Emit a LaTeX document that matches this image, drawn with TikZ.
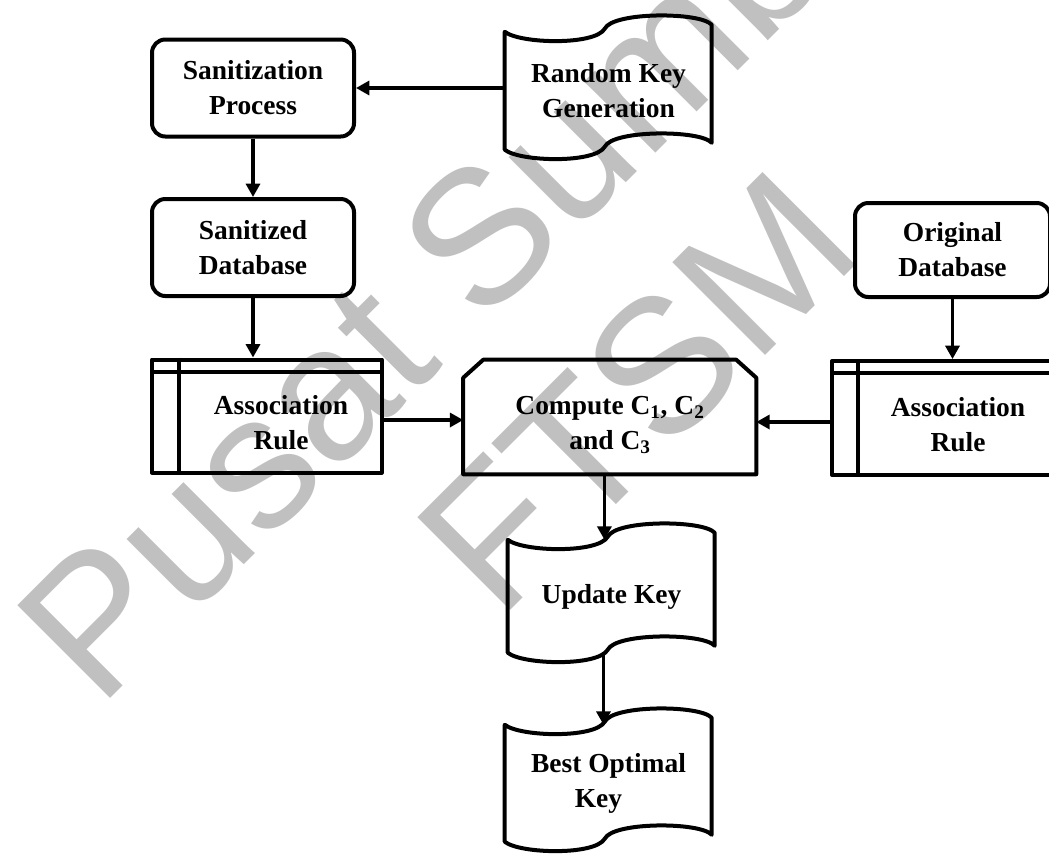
\documentclass[tikz,border=0pt]{standalone}
\usepackage{fontspec}
\setmainfont{Liberation Serif}
\newfontfamily\wmfont{Liberation Sans}
\usetikzlibrary{arrows.meta,calc}

\definecolor{wmgray}{RGB}{192,192,192}

\tikzset{
  lbl/.style={font=\bfseries\fontsize{20.6pt}{26.25pt}\selectfont, align=center, inner sep=0pt},
  outline/.style={line width=3pt, line join=round},
  roundbox/.style={lbl, draw, outline, rounded corners=10pt,
    minimum width=#1*0.75pt, minimum height=97*0.75pt},
  plainbox/.style={lbl, minimum width=#1*0.75pt},
  arr/.style={line width=2.4pt, -{Triangle[length=10pt,width=10.5pt]}},
  wm/.style={rotate=45, text=wmgray, inner sep=0pt, anchor=base,
    font=\wmfont\fontsize{143pt}{165pt}\selectfont},
}

% punched-tape outline, drawn from the node's top-left corner
\newcommand\tapeoutline[2]{%
  \begin{scope}[shift={(#1.north west)}]
    \draw[outline] (0,0)
      .. controls (15,12) and (90,14) .. (100,-3)
      .. controls (108,-20) and (195,-20) .. (207,-7)
      -- (207,#2-7)
      .. controls (195,#2-20) and (108,#2-20) .. (100,#2-3)
      .. controls (90,#2+14) and (15,#2+12) .. (0,#2)
      -- cycle;
  \end{scope}}

\begin{document}
\begin{tikzpicture}[x=0.75pt,y=-0.75pt]
  \useasboundingbox (0,0) rectangle (1049,861);
  \clip (0,0) rectangle (1049,861);

  % background mark
  \node[wm] (wm1) at (527,282) {Pusat Sumber};
  \node[wm] (wm2) at (683,438) {FTSM};

  % rounded process boxes
  \node[roundbox=202] (sp) at (253,88) {Sanitization\\Process};
  \node[roundbox=202] (sd) at (253,247.5) {Sanitized\\Database};
  \node[roundbox=195, minimum height=94*0.75pt] (od) at (952.5,250) {Original\\Database};

  % punched-tape boxes
  \node[plainbox=207, minimum height=118*0.75pt] (rk) at (608.5,91) {Random Key\\Generation};
  \tapeoutline{rk}{118}
  \node[plainbox=207, minimum height=113*0.75pt] (uk) at (611.5,596.5) {Update Key};
  \tapeoutline{uk}{113}
  \node[plainbox=207, minimum height=117*0.75pt] (bk) at (608.5,783.5) {Best Optimal\\Key\hspace*{15pt}};
  \tapeoutline{bk}{117}

  % association rule boxes (internal storage)
  \node[draw, outline, minimum width=229.5*0.75pt, minimum height=113*0.75pt] (arL) at (266.75,416) {};
  \draw[outline] ($(arL.north west)+(29,0)$) -- ($(arL.south west)+(29,0)$);
  \draw[outline] ($(arL.north west)+(0,14)$) -- ($(arL.north east)+(0,14)$);
  \node[lbl] (arLt) at (281,423) {Association\\Rule};

  \node[draw, outline, minimum width=228*0.75pt, minimum height=114*0.75pt] (arR) at (946,418) {};
  \draw[outline] ($(arR.north west)+(28,0)$) -- ($(arR.south west)+(28,0)$);
  \draw[outline] ($(arR.north west)+(0,14)$) -- ($(arR.north east)+(0,14)$);
  \node[lbl] (arRt) at (958,425) {Association\\Rule};

  % compute box with cut top corners
  \node[minimum width=292.5*0.75pt, minimum height=114*0.75pt, inner sep=0pt] (cmp) at (609.75,417) {};
  \draw[outline] (cmp.south west) -- ($(cmp.north west)+(0,18)$) -- ($(cmp.north west)+(20,0)$)
    -- ($(cmp.north east)+(-20,0)$) -- ($(cmp.north east)+(0,18)$) -- (cmp.south east) -- cycle;
  \node[lbl] (cmpt) at (610,425) {Compute C\textsubscript{1}, C\textsubscript{2}\\and C\textsubscript{3}};

  % connectors
  \draw[arr] (rk.west |- sp.east) -- (sp.east);
  \draw[arr] (sp.south) -- (sd.north);
  \draw[arr] (sd.south) -- (sd.south |- arL.north);
  \draw[arr] (od.south) -- (od.south |- arR.north);
  \draw[arr] ([yshift=-3pt]arL.east) -- ([yshift=-3pt]cmp.west |- arL.east);
  \draw[arr] ([yshift=-3pt]arR.west) -- ([yshift=-3pt]cmp.east |- arR.west);
  \draw[arr] ([xshift=-4pt]cmp.south) -- ([xshift=-4pt]cmp.south |- uk.north);
  \draw[arr] ([xshift=-6pt]uk.south) -- ([xshift=-6pt]uk.south |- bk.north);
\end{tikzpicture}
\end{document}
